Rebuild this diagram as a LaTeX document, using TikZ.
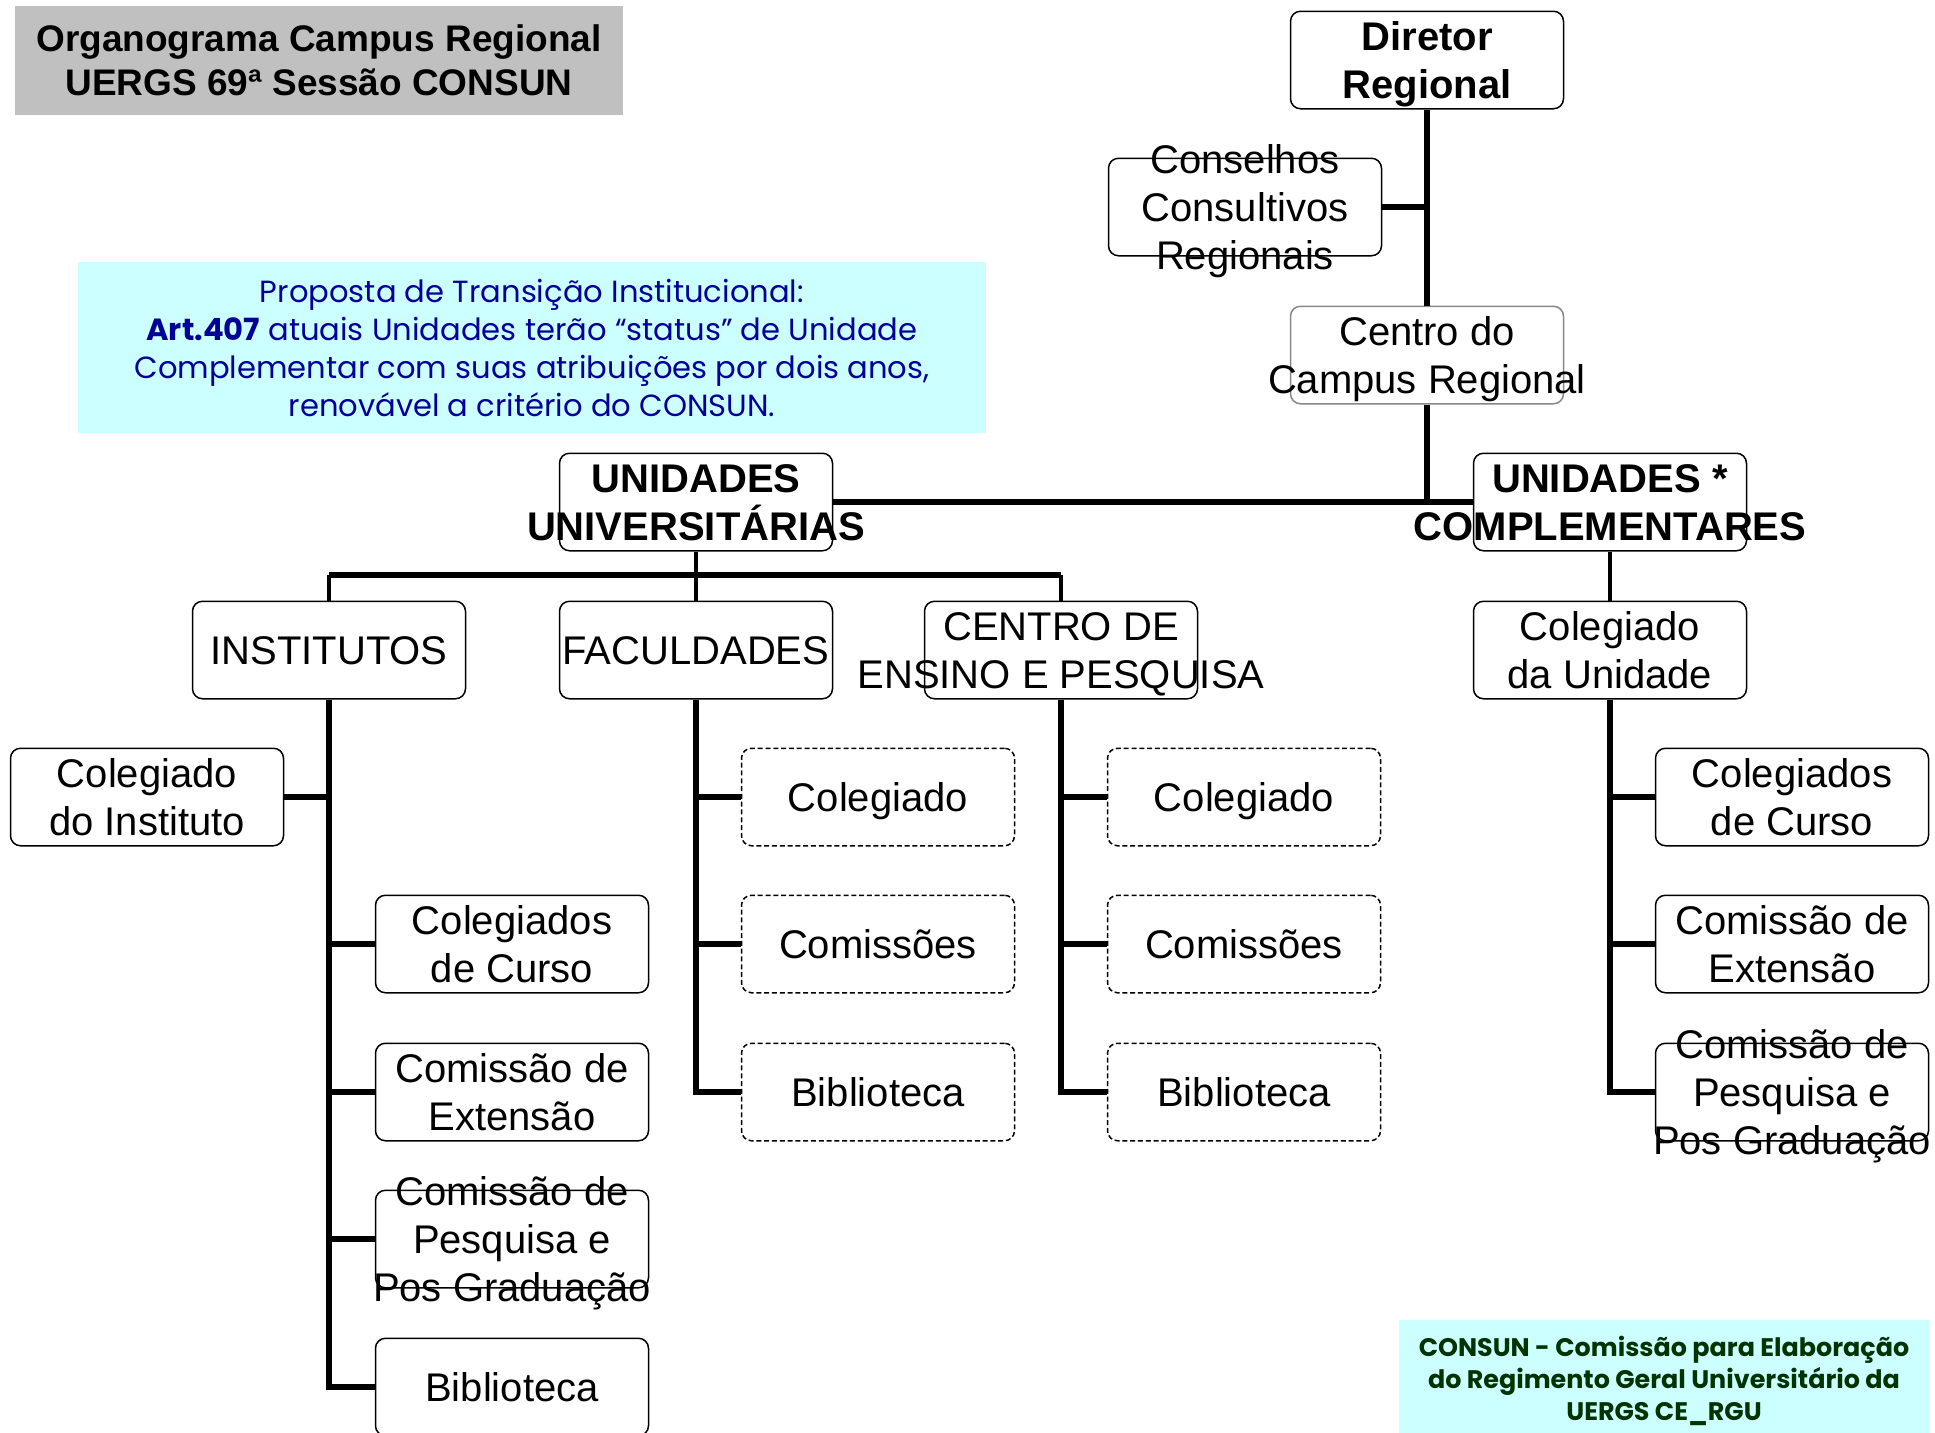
\documentclass[tikz,border=0pt]{standalone}
\usepackage{fontspec}
\setmainfont{Liberation Sans}
\newfontfamily\notafont{Poppins}
\usetikzlibrary{positioning}
\definecolor{cinza}{RGB}{192,192,192}
\definecolor{ciano}{RGB}{204,255,255}
\definecolor{azulnota}{RGB}{0,0,153}
\definecolor{verdenota}{RGB}{0,51,0}
\definecolor{bordacinza}{RGB}{135,135,135}

\tikzset{
  caixa/.style={draw, rounded corners=5pt, line width=0.75pt, minimum width=136.5pt, minimum height=48.75pt, inner sep=0pt},
  tracejada/.style={caixa, dash pattern=on 2.5pt off 1.4pt},
  texto/.style={align=center, inner sep=0pt, font=\fontsize{20}{24}\selectfont, text height=18.6pt, text depth=4.3pt},
  negrito/.style={texto, font=\fontsize{20}{24}\selectfont\bfseries},
  duas/.style={text height=42.6pt},
  tres/.style={text height=66.6pt},
  ligacao/.style={line width=2.6pt},
  barra/.style={line width=3pt},
  fina/.style={line width=1.7pt}
}

\begin{document}
\begin{tikzpicture}[x=0.5pt, y=-0.5pt]
  \useasboundingbox (0,0) rectangle (1935,1432);

  % titulo e notas
  \node[fill=cinza, minimum width=304pt, minimum height=54.5pt, inner sep=0pt, align=center, text height=39.2pt, text depth=4pt, font=\fontsize{18.5}{22}\selectfont\bfseries] (titulo) at (319,60.5) {Organograma Campus Regional\\UERGS 69ª Sessão CONSUN};
  \node[fill=ciano, minimum width=454pt, minimum height=85.5pt, align=center, text=azulnota, font=\notafont\fontsize{15.3}{19}\selectfont] (proposta) at (532,347.5) {Proposta de Transição Institucional:\\{\bfseries Art.407} atuais Unidades terão “status” de Unidade\\Complementar com suas atribuições por dois anos,\\renovável a critério do CONSUN.};
  \node[fill=ciano, minimum width=265pt, minimum height=61pt, align=center, text=verdenota, font=\notafont\bfseries\fontsize{12.7}{16}\selectfont] (comissao) at (1664,1381) {CONSUN - Comissão para Elaboração\\do Regimento Geral Universitário da\\UERGS CE\_RGU};

  % direcao
  \node[caixa] (dir) at (1427,60) {};
  \node[negrito, duas] (dirt) at (dir) {Diretor\\Regional};
  \node[caixa] (cons) at (1245,207) {};
  \node[texto, tres] (const) at (cons) {Conselhos\\Consultivos\\Regionais};
  \node[caixa, draw=bordacinza] (campus) at (1427,355) {};
  \node[texto, duas] (campust) at (campus) {Centro do\\Campus Regional};

  % unidades
  \node[caixa] (univ) at (696,502) {};
  \node[negrito, duas] (univt) at (univ) {UNIDADES\\UNIVERSITÁRIAS};
  \node[caixa] (compl) at (1610,502) {};
  \node[negrito, duas] (complt) at (compl) {UNIDADES *\\COMPLEMENTARES};

  \node[caixa] (inst) at (329,650) {};
  \node[texto] (instt) at (inst) {INSTITUTOS};
  \node[caixa] (fac) at (696,650) {};
  \node[texto] (fact) at (fac) {FACULDADES};
  \node[caixa] (cep) at (1061,650) {};
  \node[texto, duas] (cept) at (cep) {CENTRO DE\\ENSINO E PESQUISA};
  \node[caixa] (colun) at (1610,650) {};
  \node[texto, duas] (colunt) at (colun) {Colegiado\\da Unidade};

  % institutos
  \node[caixa] (colinst) at (147,797) {};
  \node[texto, duas] (colinstt) at (colinst) {Colegiado\\do Instituto};
  \node[caixa] (icurso) at (512,944) {};
  \node[texto, duas] (icursot) at (icurso) {Colegiados\\de Curso};
  \node[caixa] (iext) at (512,1092) {};
  \node[texto, duas] (iextt) at (iext) {Comissão de\\Extensão};
  \node[caixa] (ipesq) at (512,1239) {};
  \node[texto, tres] (ipesqt) at (ipesq) {Comissão de\\Pesquisa e\\Pos Graduação};
  \node[caixa] (ibib) at (512,1387) {};
  \node[texto] (ibibt) at (ibib) {Biblioteca};

  % faculdades
  \node[tracejada] (fcol) at (878,797) {};
  \node[texto] (fcolt) at (fcol) {Colegiado};
  \node[tracejada] (fcom) at (878,944) {};
  \node[texto] (fcomt) at (fcom) {Comissões};
  \node[tracejada] (fbib) at (878,1092) {};
  \node[texto] (fbibt) at (fbib) {Biblioteca};

  % centro de ensino e pesquisa
  \node[tracejada] (ccol) at (1244,797) {};
  \node[texto] (ccolt) at (ccol) {Colegiado};
  \node[tracejada] (ccom) at (1244,944) {};
  \node[texto] (ccomt) at (ccom) {Comissões};
  \node[tracejada] (cbib) at (1244,1092) {};
  \node[texto] (cbibt) at (cbib) {Biblioteca};

  % unidades complementares
  \node[caixa] (ucurso) at (1792,797) {};
  \node[texto, duas] (ucursot) at (ucurso) {Colegiados\\de Curso};
  \node[caixa] (uext) at (1792,944) {};
  \node[texto, duas] (uextt) at (uext) {Comissão de\\Extensão};
  \node[caixa] (upesq) at (1792,1092) {};
  \node[texto, tres] (upesqt) at (upesq) {Comissão de\\Pesquisa e\\Pos Graduação};

  % ligacoes
  \coordinate (bus) at (696,575);
  \draw[ligacao] (dir) -- (campus);
  \draw[ligacao] (campus) -- (campus |- univ);
  \draw[ligacao] (cons) -- (cons -| dir);
  \draw[barra] (univ) -- (compl);
  \draw[fina] (univ) -- (bus);
  \draw[barra] (inst |- bus) -- (cep |- bus);
  \draw[fina] (inst |- bus) -- (inst);
  \draw[fina] (bus) -- (fac);
  \draw[fina] (cep |- bus) -- (cep);
  \draw[fina] (compl) -- (colun);

  \draw[ligacao] (inst) |- (colinst);
  \draw[ligacao] (inst) |- (icurso);
  \draw[ligacao] (inst) |- (iext);
  \draw[ligacao] (inst) |- (ipesq);
  \draw[ligacao] (inst) |- (ibib);
  \draw[ligacao] (fac) |- (fcol);
  \draw[ligacao] (fac) |- (fcom);
  \draw[ligacao] (fac) |- (fbib);
  \draw[ligacao] (cep) |- (ccol);
  \draw[ligacao] (cep) |- (ccom);
  \draw[ligacao] (cep) |- (cbib);
  \draw[ligacao] (colun) |- (ucurso);
  \draw[ligacao] (colun) |- (uext);
  \draw[ligacao] (colun) |- (upesq);
\end{tikzpicture}
\end{document}
